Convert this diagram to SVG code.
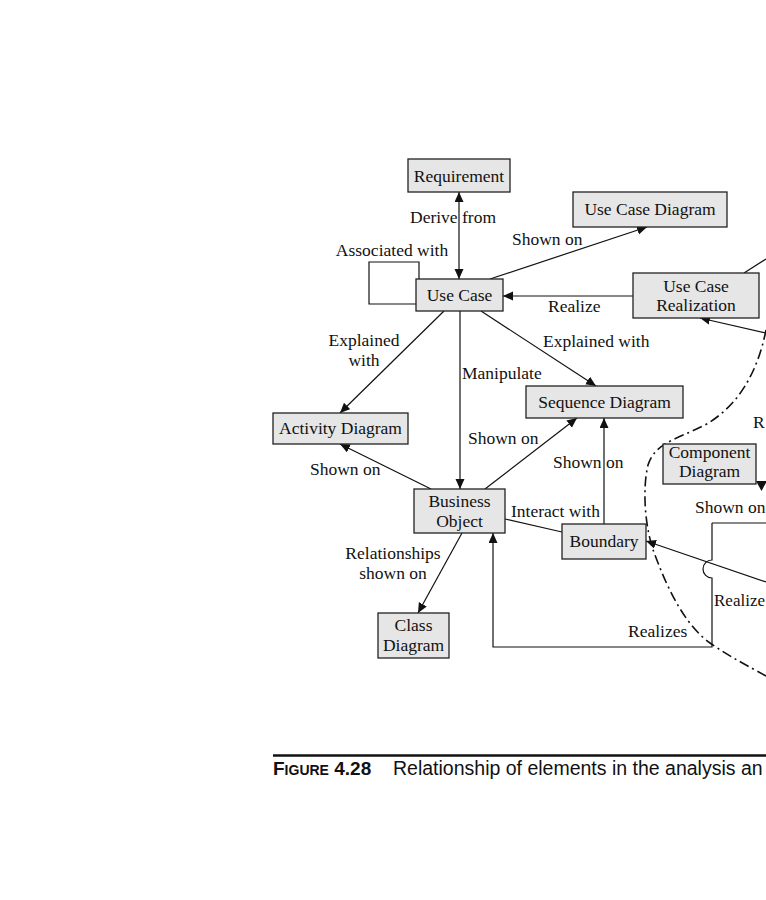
<svg xmlns="http://www.w3.org/2000/svg" width="766" height="900" viewBox="0 0 766 900">
<style>
.box{fill:#e6e6e6;stroke:#222;stroke-width:1.3}
.t{font-family:"Liberation Serif","Times New Roman",serif;font-size:17.5px;fill:#111}
.c{text-anchor:middle}
.ln{fill:none;stroke:#111;stroke-width:1.2}
.arr{marker-end:url(#ah)}
.dd{fill:none;stroke:#111;stroke-width:1.6;stroke-dasharray:10 4 2 4}
.cap{font-family:"Liberation Sans",Arial,sans-serif;fill:#111}
</style>
<defs>
<marker id="ah" markerUnits="userSpaceOnUse" markerWidth="11" markerHeight="10" refX="10" refY="4.5" orient="auto-start-reverse">
<path d="M0,0 L10,4.5 L0,9 z" fill="#111"/>
</marker>
</defs>
<rect width="766" height="900" fill="#fff"/>
<g id="connectors">
<path class="ln arr" style="marker-start:url(#ah)" d="M459,192 V279"/>
<path class="ln" d="M416,304 H369 V262 H419 V279"/>
<path class="ln arr" d="M490,279 L647,227"/>
<path class="ln arr" d="M633,296 L503,296"/>
<path class="ln" d="M744,273 L766,259"/>
<path class="ln arr" d="M766,333 L700,318"/>
<path class="ln arr" d="M444,311 L340,413"/>
<path class="ln arr" d="M460,311 L460,489"/>
<path class="ln arr" d="M481,311 L596,386"/>
<path class="ln arr" d="M431,489 L340,444"/>
<path class="ln arr" d="M485,489 L577,418"/>
<path class="ln arr" d="M604,524 L604,418"/>
<path class="ln" d="M505,519 L562,532"/>
<path class="ln arr" d="M462,533 L418,613"/>
<path class="ln" d="M712,523 H766"/>
<path class="ln arr" d="M712,523 V560 A9,9 0 0 0 712,578 V647 H493 V533"/>
<path class="ln arr" d="M766,582 L646,541"/>
<path class="dd" d="M766,330 C758,370 740,405 705,425 C675,440 655,443 648,465 C642,490 645,530 655,555 C668,590 685,625 710,643 C730,657 750,667 766,676"/>
<polygon points="756,481 767,481 761.5,491" fill="#111"/>
</g>
<g id="labels">
<text class="t c" x="392" y="256">Associated with</text>
<text class="t" x="410" y="223">Derive from</text>
<text class="t" x="512" y="245">Shown on</text>
<text class="t" x="548" y="312">Realize</text>
<text class="t c" x="364" y="346">Explained</text>
<text class="t c" x="364" y="366">with</text>
<text class="t" x="462" y="379">Manipulate</text>
<text class="t" x="543" y="347">Explained with</text>
<text class="t" x="468" y="444">Shown on</text>
<text class="t" x="310" y="475">Shown on</text>
<text class="t" x="553" y="468">Shown on</text>
<text class="t" x="511" y="517">Interact with</text>
<text class="t c" x="393" y="559">Relationships</text>
<text class="t c" x="393" y="579">shown on</text>
<text class="t" x="628" y="637">Realizes</text>
<text class="t" x="714" y="606" style="font-size:17px">Realize</text>
<text class="t" x="753" y="428">R</text>
<text class="t" x="695" y="513">Shown on</text>
</g>
<g id="requirement"><rect class="box" x="408" y="159" width="102" height="33"/><text class="t c" x="459" y="181.5">Requirement</text></g>
<g id="use-case-diagram"><rect class="box" x="573" y="192" width="154" height="35"/><text class="t c" x="650" y="215">Use Case Diagram</text></g>
<g id="use-case"><rect class="box" x="416" y="279" width="87" height="32"/><text class="t c" x="459.5" y="301">Use Case</text></g>
<g id="use-case-realization"><rect class="box" x="633" y="273" width="126" height="45"/><text class="t c" x="696" y="292">Use Case</text><text class="t c" x="696" y="311">Realization</text></g>
<g id="activity-diagram"><rect class="box" x="273" y="413" width="135" height="31"/><text class="t c" x="340.5" y="434">Activity Diagram</text></g>
<g id="sequence-diagram"><rect class="box" x="526" y="386" width="157" height="32"/><text class="t c" x="604.5" y="408">Sequence Diagram</text></g>
<g id="business-object"><rect class="box" x="414" y="489" width="91" height="44"/><text class="t c" x="459.5" y="507">Business</text><text class="t c" x="459.5" y="527">Object</text></g>
<g id="boundary"><rect class="box" x="562" y="524" width="84" height="35"/><text class="t c" x="604" y="547">Boundary</text></g>
<g id="class-diagram"><rect class="box" x="378" y="613" width="71" height="45"/><text class="t c" x="413.5" y="631">Class</text><text class="t c" x="413.5" y="651">Diagram</text></g>
<g id="component-diagram"><rect class="box" x="663" y="444" width="93" height="40"/><text class="t c" x="709.5" y="458">Component</text><text class="t c" x="709.5" y="477">Diagram</text></g>
<g id="caption">
<path d="M273,755.5 H766" stroke="#111" stroke-width="2.5"/>
<text class="cap" x="273" y="775" font-weight="bold" font-size="19">F<tspan font-size="14">IGURE</tspan> 4.28</text>
<text class="cap" x="393" y="775" font-size="19.5">Relationship of elements in the analysis an</text>
</g>
</svg>
